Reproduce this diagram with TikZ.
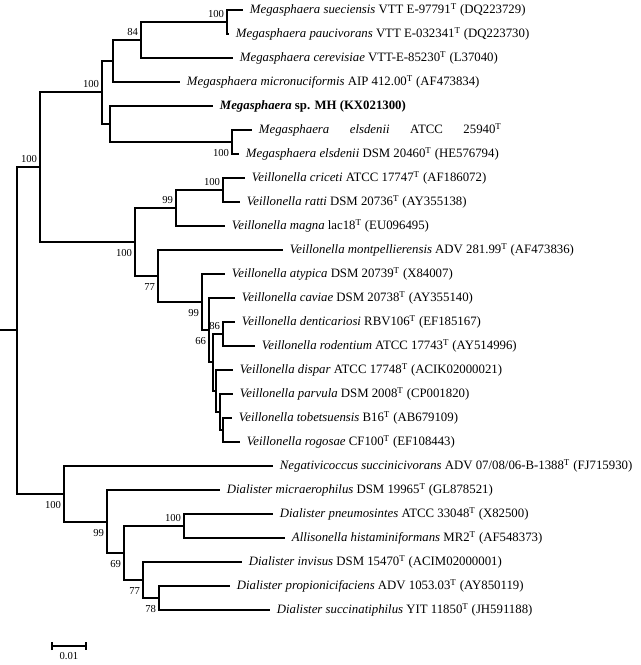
\documentclass[tikz,border=0pt]{standalone}
\usepackage{fontspec}
\setmainfont{Liberation Serif}
\usetikzlibrary{arrows.meta}
\newcommand{\Ts}{\textsuperscript{T}}

\begin{document}
\begin{tikzpicture}[x=0.75pt,y=-0.75pt,
    branch/.style={line width=1.5pt},
    leaf/.style={anchor=west,inner xsep=5pt,inner ysep=0pt,font=\fontsize{9.6}{11.5}\selectfont},
    bup/.style={anchor=south east,inner sep=2pt,yshift=1pt,font=\fontsize{8}{9.6}\selectfont},
    bdown/.style={anchor=north east,inner sep=2pt,yshift=-3.5pt,font=\fontsize{8}{9.6}\selectfont}]
    \useasboundingbox (0,0) rectangle (640,665);

    % leaves
    \node[leaf] (msue) at (243,10) {\emph{Megasphaera sueciensis} VTT E-97791\Ts{} (DQ223729)};
    \node[leaf] (mpau) at (229,34) {\emph{Megasphaera paucivorans} VTT E-032341\Ts{} (DQ223730)};
    \node[leaf] (mcer) at (233,58) {\emph{Megasphaera cerevisiae} VTT-E-85230\Ts{} (L37040)};
    \node[leaf] (mmic) at (180,82) {\emph{Megasphaera micronuciformis} AIP 412.00\Ts{} (AF473834)};
    \node[leaf] (msp) at (213,106) {\textbf{\emph{Megasphaera} sp. MH (KX021300)}};
    \node[leaf] (mels1) at (252,130) {\makebox[182pt][s]{\emph{Megasphaera} \emph{elsdenii} ATCC 25940\Ts}};
    \node[leaf] (mels2) at (239,154) {\emph{Megasphaera elsdenii} DSM 20460\Ts{} (HE576794)};
    \node[leaf] (vcri) at (245,178) {\emph{Veillonella criceti} ATCC 17747\Ts{} (AF186072)};
    \node[leaf] (vrat) at (240,202) {\emph{Veillonella ratti} DSM 20736\Ts{} (AY355138)};
    \node[leaf] (vmag) at (225,226) {\emph{Veillonella magna} lac18\Ts{} (EU096495)};
    \node[leaf] (vmon) at (283,250) {\emph{Veillonella montpellierensis} ADV 281.99\Ts{} (AF473836)};
    \node[leaf] (vaty) at (225,274) {\emph{Veillonella atypica} DSM 20739\Ts{} (X84007)};
    \node[leaf] (vcav) at (235,298) {\emph{Veillonella caviae} DSM 20738\Ts{} (AY355140)};
    \node[leaf] (vden) at (235,322) {\emph{Veillonella denticariosi} RBV106\Ts{} (EF185167)};
    \node[leaf] (vrod) at (255,346) {\emph{Veillonella rodentium} ATCC 17743\Ts{} (AY514996)};
    \node[leaf] (vdis) at (233,370) {\emph{Veillonella dispar} ATCC 17748\Ts{} (ACIK02000021)};
    \node[leaf] (vpar) at (233,394) {\emph{Veillonella parvula} DSM 2008\Ts{} (CP001820)};
    \node[leaf] (vtob) at (232,418) {\emph{Veillonella tobetsuensis} B16\Ts{} (AB679109)};
    \node[leaf] (vrog) at (240,442) {\emph{Veillonella rogosae} CF100\Ts{} (EF108443)};
    \node[leaf] (nsuc) at (273,466) {\emph{Negativicoccus succinicivorans} ADV 07/08/06-B-1388\Ts{} (FJ715930)};
    \node[leaf] (dmic) at (220,490) {\emph{Dialister micraerophilus} DSM 19965\Ts{} (GL878521)};
    \node[leaf] (dpne) at (273,514) {\emph{Dialister pneumosintes} ATCC 33048\Ts{} (X82500)};
    \node[leaf] (ahis) at (285,538) {\emph{Allisonella histaminiformans} MR2\Ts{} (AF548373)};
    \node[leaf] (dinv) at (242,562) {\emph{Dialister invisus} DSM 15470\Ts{} (ACIM02000001)};
    \node[leaf] (dpro) at (230,586) {\emph{Dialister propionicifaciens} ADV 1053.03\Ts{} (AY850119)};
    \node[leaf] (dsuc) at (270,610) {\emph{Dialister succinatiphilus} YIT 11850\Ts{} (JH591188)};

    % inner nodes
    \coordinate (root0) at (0,330);
    \coordinate (root) at (17,330);
    \coordinate (A) at (40,167);
    \coordinate (Meg) at (102,92);
    \coordinate (Meg1) at (113,61);
    \coordinate (Meg2) at (141,40);
    \coordinate (Meg3) at (227,22);
    \coordinate (MegB) at (110,124);
    \coordinate (Els) at (232,142);
    \coordinate (V) at (135,242);
    \coordinate (V1) at (176,208);
    \coordinate (V2) at (223,190);
    \coordinate (V3) at (158,276);
    \coordinate (V4) at (202,302);
    \coordinate (V5) at (209,330);
    \coordinate (V6) at (213,362);
    \coordinate (Dn) at (223,334);
    \coordinate (V7) at (216,391);
    \coordinate (V8) at (220,412);
    \coordinate (V9) at (223,430);
    \coordinate (N) at (64,494);
    \coordinate (D1) at (107,522);
    \coordinate (D2) at (124,553);
    \coordinate (D3) at (184,526);
    \coordinate (D4) at (143,580);
    \coordinate (D5) at (159,598);

    \draw[branch] (root0) -- (root);
    \foreach \p/\c in {root/A,root/N,A/Meg,A/V,Meg/Meg1,Meg/MegB,Meg1/Meg2,Meg1/mmic,
      Meg2/Meg3,Meg2/mcer,Meg3/msue,Meg3/mpau,MegB/msp,MegB/Els,Els/mels1,Els/mels2,
      V/V1,V/V3,V1/V2,V1/vmag,V2/vcri,V2/vrat,V3/vmon,V3/V4,V4/vaty,V4/V5,V5/vcav,V5/V6,
      V6/Dn,V6/V7,Dn/vden,Dn/vrod,V7/vdis,V7/V8,V8/vpar,V8/V9,V9/vtob,V9/vrog,
      N/nsuc,N/D1,D1/dmic,D1/D2,D2/D3,D2/D4,D3/dpne,D3/ahis,D4/dinv,D4/D5,D5/dpro,D5/dsuc} {
      \draw[branch] (\p) |- (\c);
    }

    % bootstrap values
    \foreach \n/\s/\t in {Meg3/bup/100,Meg2/bup/84,Meg/bup/100,A/bup/100,Els/bdown/100,
      V2/bup/100,V1/bup/99,V/bdown/100,V3/bdown/77,V4/bdown/99,V5/bdown/66,Dn/bup/86,
      N/bdown/100,D1/bdown/99,D2/bdown/69,D3/bup/100,D4/bdown/77,D5/bdown/78} {
      \node[\s] (b\n) at (\n) {\t};
    }

    % scale bar
    \coordinate (s1) at (51,646);
    \coordinate (s2) at (87,646);
    \draw[branch,{Bar[width=6pt]}-{Bar[width=6pt]}] (s1) -- (s2);
    \node[font=\fontsize{8}{9.6}\selectfont] (slab) at (69,656) {0.01};
\end{tikzpicture}
\end{document}
